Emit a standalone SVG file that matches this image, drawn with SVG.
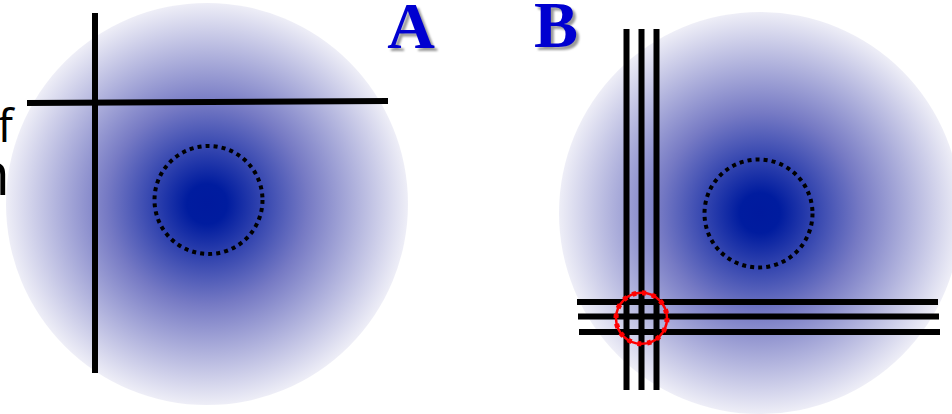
<svg xmlns="http://www.w3.org/2000/svg" width="952" height="414" viewBox="0 0 952 414">
  <defs>
    <radialGradient id="glow" cx="0.5" cy="0.5" r="0.5">
      <stop offset="0" stop-color="#001a9e"/>
      <stop offset="0.1" stop-color="#001c9f"/>
      <stop offset="0.5" stop-color="#767ac4"/>
      <stop offset="1" stop-color="#eeeef7"/>
    </radialGradient>
    <filter id="shadow" x="-20%" y="-20%" width="140%" height="140%">
      <feGaussianBlur stdDeviation="1.2"/>
    </filter>
  </defs>
  <style>
    .blob { fill: url(#glow); }
    .bar { stroke: #000; stroke-width: 6; fill: none; }
    .dots { fill: none; stroke: #000; stroke-width: 4; stroke-dasharray: 4 4.1; }
    .label { font-family: "Liberation Serif", "Times New Roman", serif; font-weight: bold; font-size: 66px; text-anchor: middle; }
    .lab-fg { fill: #0000d0; }
    .lab-sh { fill: #9a9a9a; filter: url(#shadow); }
    .side { font-family: "Open Sans", "Noto Sans", sans-serif; fill: #000; text-anchor: end; }
    .red { fill: none; stroke: #ff0000; }
  </style>

  <!-- Panel A -->
  <g id="panelA">
    <circle class="blob" cx="207" cy="204" r="201"/>
    <circle class="dots" cx="208.5" cy="200" r="54"/>
  </g>
  <g id="side-text">
    <text class="side" x="13" y="142" font-size="46">f</text>
    <text class="side" x="10" y="195" font-size="60">n</text>
  </g>
  <g id="labelA">
    <text class="label lab-sh" x="414" y="51">A</text>
    <text class="label lab-fg" x="411" y="48">A</text>
  </g>

  <!-- Panel B -->
  <g id="panelB">
    <circle class="blob" cx="760" cy="213" r="201"/>
    <circle class="dots" cx="758.5" cy="213.5" r="54"/>
  </g>
  <g id="labelB">
    <text class="label lab-sh" x="559" y="50">B</text>
    <text class="label lab-fg" x="556" y="47">B</text>
  </g>

  <g id="connectors">
    <!-- Panel A lines -->
    <line class="bar" x1="95" y1="13" x2="95" y2="373"/>
    <line class="bar" x1="27" y1="103" x2="388" y2="101"/>
    <!-- Panel B vertical lines -->
    <line class="bar" x1="626.5" y1="29" x2="626.5" y2="390"/>
    <line class="bar" x1="641.5" y1="29" x2="641.5" y2="390"/>
    <line class="bar" x1="656.5" y1="29" x2="656.5" y2="390"/>
    <!-- Panel B horizontal lines -->
    <line class="bar" x1="577" y1="302" x2="938" y2="302"/>
    <line class="bar" x1="578" y1="316.5" x2="939" y2="316.5"/>
    <line class="bar" x1="579" y1="332" x2="940" y2="332"/>
  </g>

  <g id="intersection">
    <circle class="red" cx="641.5" cy="318.3" r="25.5" stroke-width="2.5"/>
    <circle class="red" cx="641.5" cy="318.3" r="25.5" stroke-width="5" stroke-dasharray="4 6"/>
  </g>
</svg>
